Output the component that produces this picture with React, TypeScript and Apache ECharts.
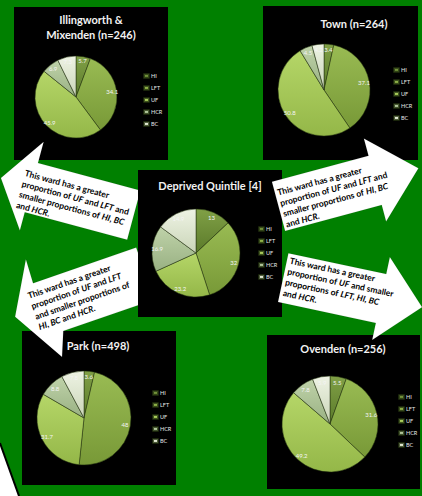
import React, { useEffect, useRef } from 'react';
import * as echarts from 'echarts';

// ---------- data ----------
const categories = ['HI', 'LFT', 'UF', 'HCR', 'BC'];
const illingworthValues = [5.7, 34.1, 45.9, 6.9, 7.3];
const townValues = [3.4, 37.1, 50.8, 4.5, 4.2];
const quintileValues = [13, 32, 23.2, 16.9, 14.9];
const parkValues = [3.6, 48, 31.7, 8.8, 7.8];
const ovendenValues = [5.5, 31.6, 49.2, 7.8, 5.9];
const chartTitles = [
  'Illingworth &\nMixenden (n=246)',
  'Town (n=264)',
  'Deprived Quintile [4]',
  'Park (n=498)',
  'Ovenden (n=256)',
];
const calloutIllingworth = 'This ward has a greater\nproportion of {i|UF} and {i|LFT} and\nsmaller proportions of {i|HI, BC}\nand {i|HCR}.';
const calloutTown = 'This ward has a greater\nproportion of {i|UF} and {i|LFT} and\nsmaller proportions of {i|HI, BC}\nand {i|HCR}.';
const calloutPark = 'This ward has a greater\nproportion of {i|UF} and {i|LFT}\nand smaller proportions of\n{i|HI, BC} and {i|HCR}.';
const calloutOvenden = 'This ward has a greater\nproportion of {i|UF} and smaller\nproportions of {i|LFT, HI, BC}\nand {i|HCR}.';

const allValues = [illingworthValues, townValues, quintileValues, parkValues, ovendenValues];

// ---------- layout & styles ----------
const PANELS = [
  { rect: [14, 7, 154, 153], center: [76, 97], radius: 41, legend: [143, 73], title: [91, 12], z: 0 },
  { rect: [263, 6, 155, 154], center: [324, 90], radius: 46, legend: [393, 67], title: [354, 16], z: 0 },
  { rect: [138, 170, 144, 147], center: [196, 253], radius: 44, legend: [258, 226], title: [210, 178], z: 1.5 },
  { rect: [22, 331, 154, 154], center: [84, 418], radius: 47, legend: [152, 390], title: [98, 338], z: 0 },
  { rect: [267, 335, 153, 154], center: [330, 424], radius: 48, legend: [398, 394], title: [343, 341], z: 0 },
];

const SHADES = [
  ['#80a046', '#5b7a2a'],
  ['#99bb53', '#789937'],
  ['#b5d668', '#94b748'],
  ['#bfd2a9', '#99b183'],
  ['#eef3e4', '#cad5b8'],
];

const CALLOUTS = [
  {
    x: 38, y: 163, rot: -15, z: 1,
    points: [[0, -22], [0, 0], [106, 0], [106, 51], [0, 51], [0, 70], [-32, 24]],
    textPos: [-10, 7.5], text: calloutIllingworth,
  },
  {
    x: 271.9, y: 181.7, rot: 15, z: 5,
    points: [[0, 0], [100, 0], [100, -18], [145, 25], [100, 68], [100, 51], [0, 51]],
    textPos: [2.5, 6.5], text: calloutTown,
  },
  {
    x: 26.2, y: 290.8, rot: 19, z: 1,
    points: [[10, -30], [9, -5], [118, -5], [118, 50], [22, 50], [12.3, 74.3], [-19, 21]],
    textPos: [0, 0], text: calloutPark,
  },
  {
    x: 288.4, y: 253.2, rot: -12, z: 5,
    points: [[0, 0], [100, 0], [100, -17.5], [142, 25], [100, 67.5], [100, 50], [0, 50]],
    textPos: [3, 1.5], text: calloutOvenden,
  },
];

const FONT = 'Lato, "Open Sans", sans-serif';

function shade(i: number) {
  return {
    type: 'linear', x: 0, y: 0, x2: 0, y2: 1,
    colorStops: [
      { offset: 0, color: SHADES[i][0] },
      { offset: 1, color: SHADES[i][1] },
    ],
  };
}

function buildOption() {
  const series: any[] = [];
  const legends: any[] = [];
  const titles: any[] = [];
  const graphics: any[] = [];

  PANELS.forEach((p, k) => {
    const vals = allValues[k];
    graphics.push({
      type: 'rect', z: p.z, silent: true,
      shape: { x: p.rect[0], y: p.rect[1], width: p.rect[2], height: p.rect[3] },
      style: { fill: '#000' },
    });
    series.push({
      type: 'pie', center: p.center, radius: p.radius, startAngle: 90, clockwise: true,
      silent: true, z: 2,
      label: { show: false }, labelLine: { show: false },
      itemStyle: { borderColor: 'rgba(35,50,15,0.75)', borderWidth: 0.7 },
      emphasis: { disabled: true },
      data: categories.map((c, i) => ({ name: c, value: vals[i], itemStyle: { color: shade(i) } })),
    });
    series.push({
      type: 'pie', center: p.center, radius: [p.radius * 0.64, p.radius], startAngle: 90, clockwise: true,
      silent: true, z: 3,
      itemStyle: { color: 'rgba(0,0,0,0)', borderWidth: 0 },
      label: { show: true, position: 'inside', formatter: '{c}', fontSize: 6, color: '#f4f4f4', fontFamily: FONT },
      labelLine: { show: false },
      emphasis: { disabled: true },
      data: categories.map((c, i) => ({ name: c, value: vals[i] })),
    });
    legends.push({
      data: categories, orient: 'vertical', left: p.legend[0], top: p.legend[1],
      icon: 'rect', itemWidth: 5, itemHeight: 4, itemGap: 6, padding: 0,
      selectedMode: false,
      textStyle: { color: '#e8e8e8', fontSize: 5.5, fontFamily: FONT, lineHeight: 6, padding: [0, 0, 0, -3] },
    });
    titles.push({
      text: chartTitles[k], left: p.title[0], top: p.title[1], textAlign: 'center', padding: 0,
      textStyle: { color: '#f2f2f2', fontSize: 11, fontWeight: 'bold', fontFamily: FONT, lineHeight: 15 },
    });
  });

  CALLOUTS.forEach((c) => {
    const rotation = (c.rot * Math.PI) / 180;
    graphics.push({
      type: 'polygon', x: c.x, y: c.y, rotation, z: c.z, silent: true,
      shape: { points: c.points },
      style: { fill: '#ffffff', stroke: 'rgba(0,0,0,0.15)', lineWidth: 0.5 },
    });
    const base = { fontSize: 8.5, fontWeight: 'bold', fontFamily: FONT, lineHeight: 11, fill: '#000' };
    graphics.push({
      type: 'text', x: c.x, y: c.y, rotation, z: c.z, silent: true,
      style: {
        ...base,
        text: c.text, x: c.textPos[0], y: c.textPos[1],
        align: 'left', verticalAlign: 'top', textAlign: 'left', textVerticalAlign: 'top',
        rich: { i: { ...base, fontStyle: 'italic' } },
      },
    });
  });

  // bottom-left fragment of a white shape with dark edge
  graphics.push({
    type: 'polygon', z: 1, silent: true,
    shape: { points: [[0, 443], [19, 496], [0, 496]] },
    style: { fill: '#ffffff' },
  });
  graphics.push({
    type: 'polyline', z: 1, silent: true,
    shape: { points: [[0, 443], [19, 496]] },
    style: { stroke: '#000', lineWidth: 2 },
  });

  return {
    animation: false,
    backgroundColor: '#008000',
    title: titles,
    legend: legends,
    series,
    graphic: { elements: graphics },
  };
}

export default function App() {
  const ref = useRef<HTMLDivElement>(null);
  useEffect(() => {
    if (!ref.current) return;
    const chart = echarts.init(ref.current, undefined, { renderer: 'svg' });
    chart.setOption(buildOption() as any);
    return () => chart.dispose();
  }, []);
  return <div ref={ref} style={{ position: 'fixed', left: 0, top: 0, width: 422, height: 496 }} />;
}
